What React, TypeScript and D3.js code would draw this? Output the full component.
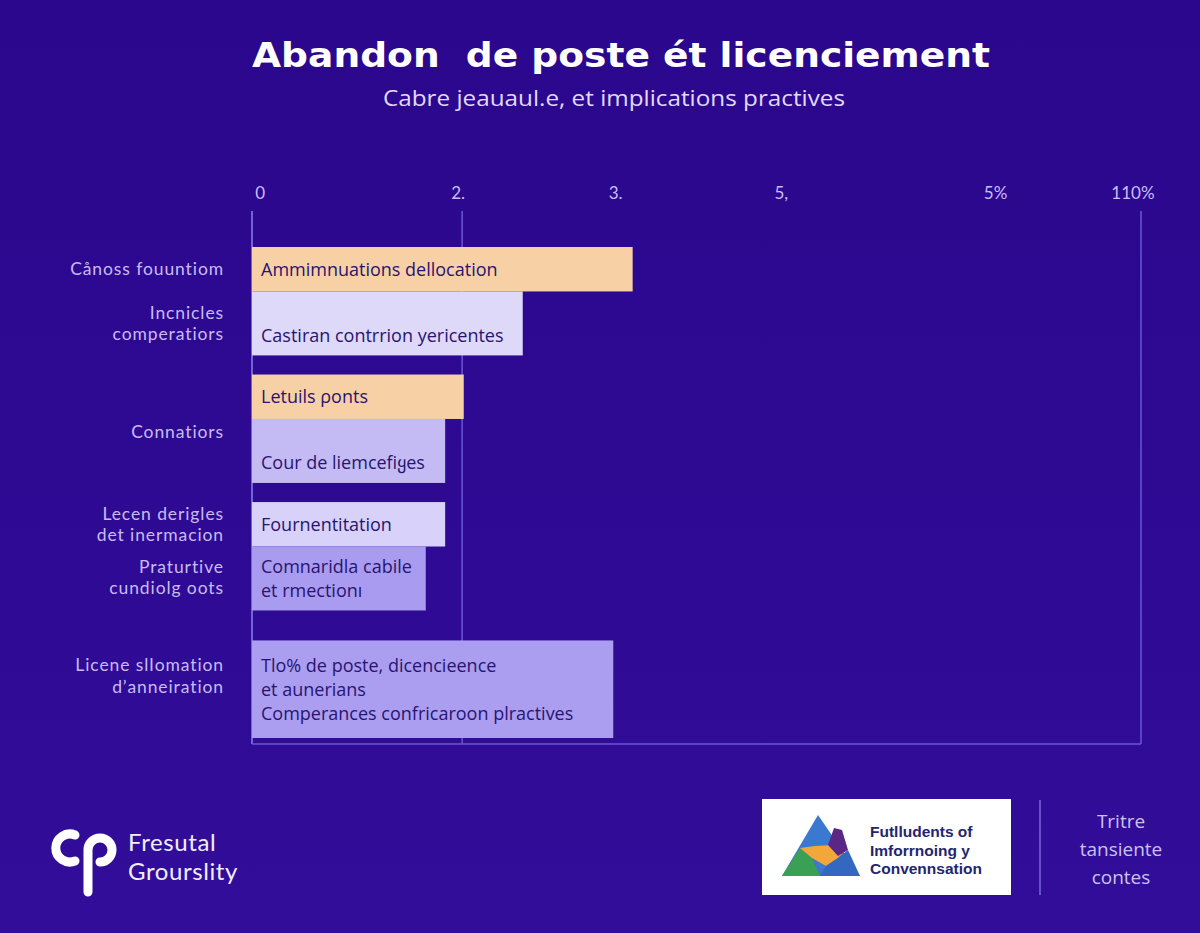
import React from "react";
import * as d3 from "d3";

const W = 1200;
const H = 933;

const titleText = "Abandon  de poste ét licenciement";
const subtitleText = "Cabre jeauaul.e, et implications practives";

const tickValues = [1, 25.5, 45, 65.5, 92, 109];
const tickLabels = ["0", "2.", "3.", "5,", "5%", "110%"];
const gridValues = [0, 26, 110];

const barTexts = [
  ["Ammimnuations dellocation"],
  ["Castiran contrrion yericentes"],
  ["Letuils ρonts"],
  ["Cour de liemcefiყes"],
  ["Fournentitation"],
  ["Comnaridla cabile", "et rmectionı"],
  ["Tlo% de poste, dicencieence", "et aunerians", "Comperances confricaroon plractives"],
];
const barValues = [47.1, 33.5, 26.2, 23.9, 23.9, 21.5, 44.7];
const barGroups = ["A", "A", "B", "B", "C", "C", "D"];
const leftLabels = [
  ["Cånoss fouuntiom"],
  ["Incnicles", "comperatiors"],
  [],
  ["Connatiors"],
  ["Lecen derigles", "det inermacion"],
  ["Praturtive", "cundiolg oots"],
  ["Licene slIomation", "dʼanneiration"],
];
const barColors = ["#f7d0a6", "#ded9f9", "#f7d0a6", "#c4bbf4", "#d8d1f9", "#a99bef", "#ab9ef0"];

const footerLeft = ["Fresutal", "Grourslity"];
const footerBox = ["Futlludents of", "Imforrnoing y", "Convennsation"];
const footerRight = ["Tritre", "tansiente", "contes"];

export default function App() {
  const x = d3.scaleLinear().domain([0, 110]).range([252, 1141]);
  const groups = Array.from(new Set(barGroups));
  const gy = d3.scaleBand().domain(groups).range([247, 738]).paddingInner(0.15);
  const bw = gy.bandwidth();

  const bars = barValues.map((v, i) => {
    const g = barGroups[i];
    const members = barGroups.map((gg, j) => (gg === g ? j : -1)).filter((j) => j >= 0);
    const idx = members.indexOf(i);
    const inner = d3
      .scaleLinear()
      .domain([0, 1])
      .range([gy(g)!, gy(g)! + bw]);
    let y0: number, y1: number;
    if (members.length === 1) {
      y0 = inner(0.1);
      y1 = inner(1);
    } else {
      const split = 0.41;
      y0 = idx === 0 ? inner(0) : inner(split);
      y1 = idx === 0 ? inner(split) : inner(1);
    }
    return { i, v, g, y0, y1, members, idx };
  });

  const lineH = 24;
  const leftLH = 21.5;

  return (
    <svg width={W} height={H} style={{ display: "block", position: "absolute", left: 0, top: 0 }}>
      <defs>
        <linearGradient id="bg" x1="0" y1="0" x2="0" y2="1">
          <stop offset="0" stopColor="#2b078d" />
          <stop offset="1" stopColor="#310d99" />
        </linearGradient>
      </defs>
      <rect x={0} y={0} width={W} height={H} fill="url(#bg)" />

      <text x={621} y={67} textAnchor="middle" fill="#ffffff" fontFamily="DejaVu Sans" fontWeight={700} fontSize={34} textLength={738} lengthAdjust="spacingAndGlyphs" style={{ whiteSpace: "pre" }}>
        {titleText}
      </text>
      <text x={614} y={106} textAnchor="middle" fill="#e2dafc" fontFamily="Open Sans" fontSize={22} textLength={462} lengthAdjust="spacingAndGlyphs">
        {subtitleText}
      </text>

      {tickValues.map((t, i) => (
        <text key={i} x={x(t)} y={199} textAnchor="middle" fill="#c9bef6" fontFamily="Lato" fontSize={17}>
          {tickLabels[i]}
        </text>
      ))}

      {gridValues.map((g, i) => (
        <line key={i} x1={x(g)} x2={x(g)} y1={211} y2={744} stroke={i === 0 ? "#8d7ff0" : "#6a55d8"} strokeWidth={1.5} />
      ))}
      <line x1={x(0)} x2={x(110)} y1={744} y2={744} stroke="#6a55d8" strokeWidth={1.5} />

      {bars.map((b) => {
        const texts = barTexts[b.i];
        const h = b.y1 - b.y0;
        const cy = (b.y0 + b.y1) / 2;
        let firstY: number;
        if (texts.length === 1 && h > 55) firstY = b.y1 - 20;
        else firstY = cy - ((texts.length - 1) / 2) * lineH;
        return (
          <g key={b.i}>
            <rect x={x(0)} y={b.y0} width={x(b.v) - x(0)} height={h} fill={barColors[b.i]} />
            {texts.map((t, k) => (
              <text key={k} x={x(0) + 9} y={firstY + k * lineH} dy="0.35em" fill="#281470" fontFamily="Open Sans" fontSize={18}>
                {t}
              </text>
            ))}
          </g>
        );
      })}

      {bars.map((b) => {
        const labs = leftLabels[b.i];
        if (!labs.length) return null;
        const texts = barTexts[b.i];
        const h = b.y1 - b.y0;
        const cy = (b.y0 + b.y1) / 2;
        let center: number;
        const prevInGroup = b.idx > 0 ? b.members[b.idx - 1] : -1;
        if (prevInGroup >= 0 && leftLabels[prevInGroup].length === 0) {
          center = gy(b.g)! + bw / 2 + 3;
        } else {
          const firstInside = texts.length === 1 && h > 55 ? b.y1 - 20 : cy - ((texts.length - 1) / 2) * lineH;
          center = Math.min(cy, firstInside + ((labs.length - 1) / 2) * leftLH);
        }
        const first = center - ((labs.length - 1) / 2) * leftLH;
        return (
          <g key={"l" + b.i}>
            {labs.map((t, k) => (
              <text key={k} x={224} y={first + k * leftLH} dy="0.35em" textAnchor="end" fill="#c8bcf4" fontFamily="Lato" fontSize={17.5} letterSpacing={0.9}>
                {t}
              </text>
            ))}
          </g>
        );
      })}

      {/* footer left logo */}
      <g fill="none" stroke="#ffffff" strokeWidth={9} strokeLinecap="round">
        <path d="M 75 835 A 14 14 0 1 0 75 861" />
        <path d="M 88 892 L 88 850 A 12 12 0 1 1 100 862" />
      </g>
      {footerLeft.map((t, k) => (
        <text key={k} x={128} y={851 + k * 29} fill="#f2eeff" fontFamily="Lato" fontSize={24} letterSpacing={0.6}>
          {t}
        </text>
      ))}

      {/* footer box */}
      <rect x={762} y={799} width={249} height={96} fill="#ffffff" />
      <g>
        <polygon points="818,815 782,876 860,876" fill="#3b78cf" />
        <polygon points="782,876 800,848 812,858 820,876" fill="#3aa055" />
        <polygon points="800,848 812,858 826,866 838,858 846,850 832,845 815,846" fill="#f1a73a" />
        <polygon points="828,845 834,828 842,830 848,850 838,856" fill="#5b2784" />
        <polygon points="826,866 838,858 848,850 860,876 820,876" fill="#3467c0" />
      </g>
      {footerBox.map((t, k) => (
        <text key={k} x={870} y={837 + k * 18.5} fill="#23256e" fontFamily="Liberation Sans" fontWeight={700} fontSize={15.5}>
          {t}
        </text>
      ))}
      <line x1={1040} x2={1040} y1={800} y2={895} stroke="#7a68d8" strokeWidth={1.5} />
      {footerRight.map((t, k) => (
        <text key={k} x={1121} y={828 + k * 28} textAnchor="middle" fill="#cbc2f2" fontFamily="Open Sans" fontSize={19}>
          {t}
        </text>
      ))}
    </svg>
  );
}
